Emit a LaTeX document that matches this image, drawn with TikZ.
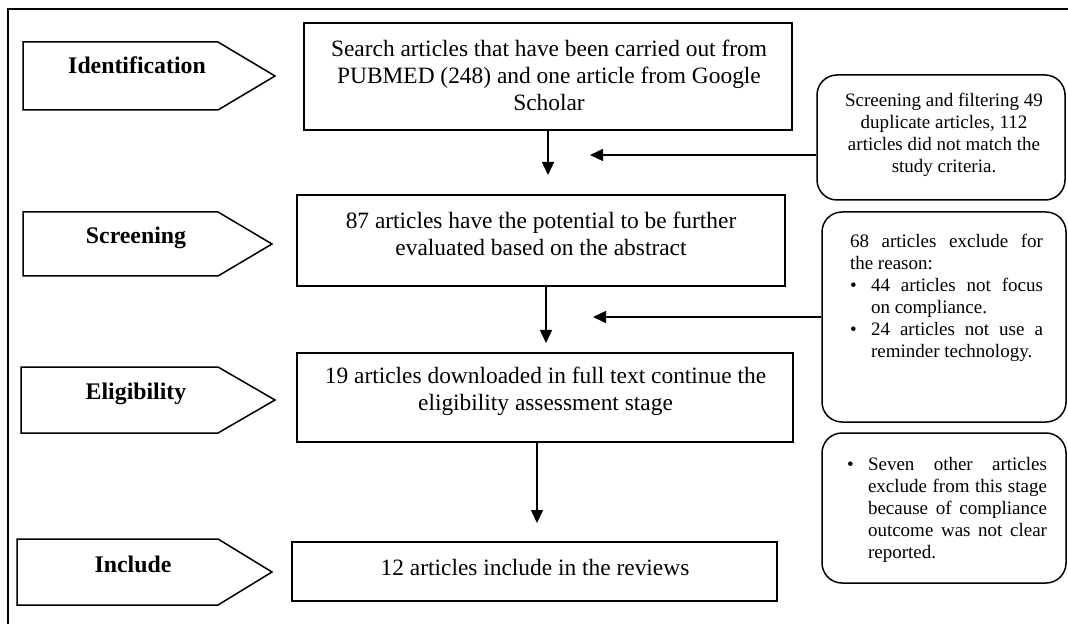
\documentclass[tikz,border=0pt]{standalone}
\usepackage{fontspec}
\setmainfont{Liberation Serif}
\usetikzlibrary{arrows.meta}
\setlength{\parindent}{0pt}
\tolerance=10000
\hbadness=10000
\hyphenpenalty=10000
\newcommand{\noteitem}{\par\hangindent=10.5pt\hangafter=1\noindent\makebox[10.5pt][l]{\textbullet}}

\begin{document}
\begin{tikzpicture}[
    x=0.5pt, y=-0.5pt,
    every node/.style={inner sep=0pt},
    outline/.style={line width=0.75pt},
    stage/.style={font=\fontsize{11.9}{14}\selectfont\bfseries, anchor=base},
    mainbox/.style={draw, outline, rectangle},
    maintext/.style={align=center, font=\fontsize{11.7}{13.5}\selectfont},
    notebox/.style={draw, outline, rounded corners=10pt},
    notetext/.style={align=justify, font=\fontsize{9.5}{11}\selectfont},
    flow/.style={outline, -{Triangle[width=6pt,length=6.5pt]}}
  ]
  \useasboundingbox (0,0) rectangle (1068,624);

  % Frame
  \draw[outline] (8,640) -- (8,9) -- (1080,9);

  % Stages
  \draw[outline] (23,42) -- (218,42) -- (275,76) -- (218,110) -- (23,110) -- cycle;
  \draw[outline] (23,212) -- (218,212) -- (272,244) -- (218,276) -- (23,276) -- cycle;
  \draw[outline] (21,367) -- (218,367) -- (275,400) -- (218,433) -- (21,433) -- cycle;
  \draw[outline] (17,539) -- (218,539) -- (272,572) -- (218,605) -- (17,605) -- cycle;
  \node[stage] (ident) at (137,74) {Identification};
  \node[stage] (screen) at (136,244) {Screening};
  \node[stage] (elig) at (136,399) {Eligibility};
  \node[stage] (incl) at (133,572) {Include};

  % Main boxes
  \node[mainbox, minimum width=244pt, minimum height=53.5pt] (b1) at (548,76.5) {};
  \node[mainbox, minimum width=244pt, minimum height=45.5pt] (b2) at (541,240.5) {};
  \node[mainbox, minimum width=248pt, minimum height=44.5pt] (b3) at (545,397.5) {};
  \node[mainbox, minimum width=242.5pt, minimum height=29.5pt] (b4) at (534.5,571.5) {};
  \node[maintext] (t1) at (549,75) {Search articles that have been carried out from\\PUBMED (248) and one article from Google\\Scholar};
  \node[maintext] (t2) at (541,233.5) {87 articles have the potential to be further\\evaluated based on the abstract};
  \node[maintext] (t3) at (545.5,391) {19 articles downloaded in full text continue the\\eligibility assessment stage};
  \node[maintext] (t4) at (535,567) {12 articles include in the reviews};

  % Notes
  \node[notebox, minimum width=124pt, minimum height=62.5pt] (n1) at (941,137.5) {};
  \node[notebox, minimum width=122pt, minimum height=105pt] (n2) at (944,317) {};
  \node[notebox, minimum width=122pt, minimum height=75pt] (n3) at (944,508) {};
  \node[notetext, align=center] (m1) at (944,135) {Screening and filtering 49\\duplicate articles, 112\\articles did not match the\\study criteria.};
  \node[notetext, text width=96.5pt] (m2) at (946.5,297.5) {68 articles exclude for\linebreak the reason:\noteitem 44 articles not focus\linebreak on compliance.\noteitem 24 articles not use a\linebreak reminder technology.\par};
  \node[notetext, text width=100pt] (m3) at (947,506) {\noteitem Seven other articles\linebreak exclude from this stage\linebreak because of compliance\linebreak outcome was not clear\linebreak reported.\par};

  % Arrows
  \coordinate (gap1) at (548,175);
  \coordinate (gap2) at (546,343);
  \coordinate (gap3) at (537,523);
  \coordinate (hit1) at (590,155);
  \coordinate (hit2) at (593,317);
  \draw[flow] (b1) -- (gap1);
  \draw[flow] (b2.south -| gap2) -- (gap2);
  \draw[flow] (b3.south -| gap3) -- (gap3);
  \draw[flow] (n1.west |- hit1) -- (hit1);
  \draw[flow] (n2) -- (hit2);
\end{tikzpicture}
\end{document}
